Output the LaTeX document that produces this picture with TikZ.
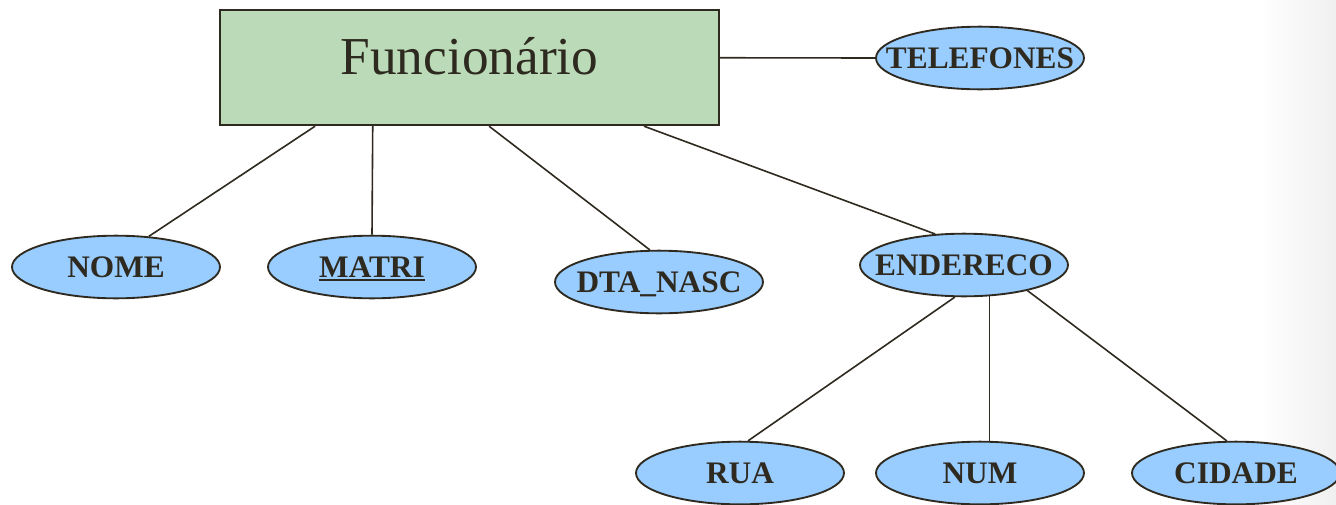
\documentclass[tikz,border=0pt]{standalone}
\usepackage{fontspec}
\setmainfont{Liberation Serif}
\usetikzlibrary{shapes.geometric,calc}
\definecolor{entfill}{HTML}{BBDBB8}
\definecolor{attfill}{HTML}{99CCFF}
\definecolor{ink}{HTML}{2E2A20}
% attribute label: zero-width centred box, so the ellipse keeps its fixed size
\newcommand\lbl[1]{\makebox[0pt][c]{#1}}
% key attribute: bold text with a heavy underline
\newcommand\keyattr[1]{\setbox0\hbox{#1}\rlap{\rule[-3pt]{\wd0}{1.6pt}}\box0}
\begin{document}
\begin{tikzpicture}[x=0.75pt,y=-0.75pt,
  entity/.style={draw=ink, line width=1.8pt, fill=entfill, rectangle,
    minimum width=374.25pt, minimum height=86.25pt, inner sep=0pt,
    text=ink, font=\fontsize{40}{40}\selectfont,
    text height=27pt, text depth=16pt},
  attr/.style={draw=ink, line width=1.4pt, fill=attfill, ellipse,
    minimum width=156pt, minimum height=47pt, inner sep=0pt,
    text=ink, font=\fontsize{23.5}{23.5}\selectfont\bfseries,
    text height=15.4pt, text depth=0pt},
  conn/.style={draw=ink, line width=1.2pt}]
\path[use as bounding box] (0,0) rectangle (1336,504);
\clip (0,0) rectangle (1336,504);
% soft slide shadow along the right edge
\shade[left color=white, right color=black!6] (1260,0) rectangle (1336,504);

% entity
\node[entity] (func) at (469.5,67.5) {Funcionário};

% attributes
\node[attr] (tel)   at (980,58)  {\lbl{TELEFONES}};
\node[attr] (nome)  at (116,267) {\lbl{NOME}};
\node[attr] (matri) at (372,267) {\lbl{\keyattr{MATRI}}};
\node[attr] (dta)   at (659,282) {\lbl{DTA\_NASC}};
\node[attr] (end)   at (964,265) {\lbl{ENDERECO}};
\node[attr] (rua)   at (740,473) {\lbl{RUA}};
\node[attr] (num)   at (980,473) {\lbl{NUM}};
\node[attr] (cid)   at (1236,473) {\lbl{CIDADE}};

% connectors from the entity
\draw[conn] ($(func.north east)!0.417!(func.south east)$) -- (tel.west);
\draw[conn] ($(func.south west)!0.192!(func.south east)$) -- (nome.43);
\draw[conn] ($(func.south west)!0.307!(func.south east)$) -- (matri.north);
\draw[conn] ($(func.south west)!0.539!(func.south east)$) -- (dta.106);
\draw[conn] ($(func.south west)!0.848!(func.south east)$) -- (end.133);

% composite attribute parts
\draw[conn] (end.254) -- (rua.76);
\draw[conn] (end.309) -- (num.north -| end.309);
\draw[conn] (end.338) -- (cid.106);
\end{tikzpicture}
\end{document}
